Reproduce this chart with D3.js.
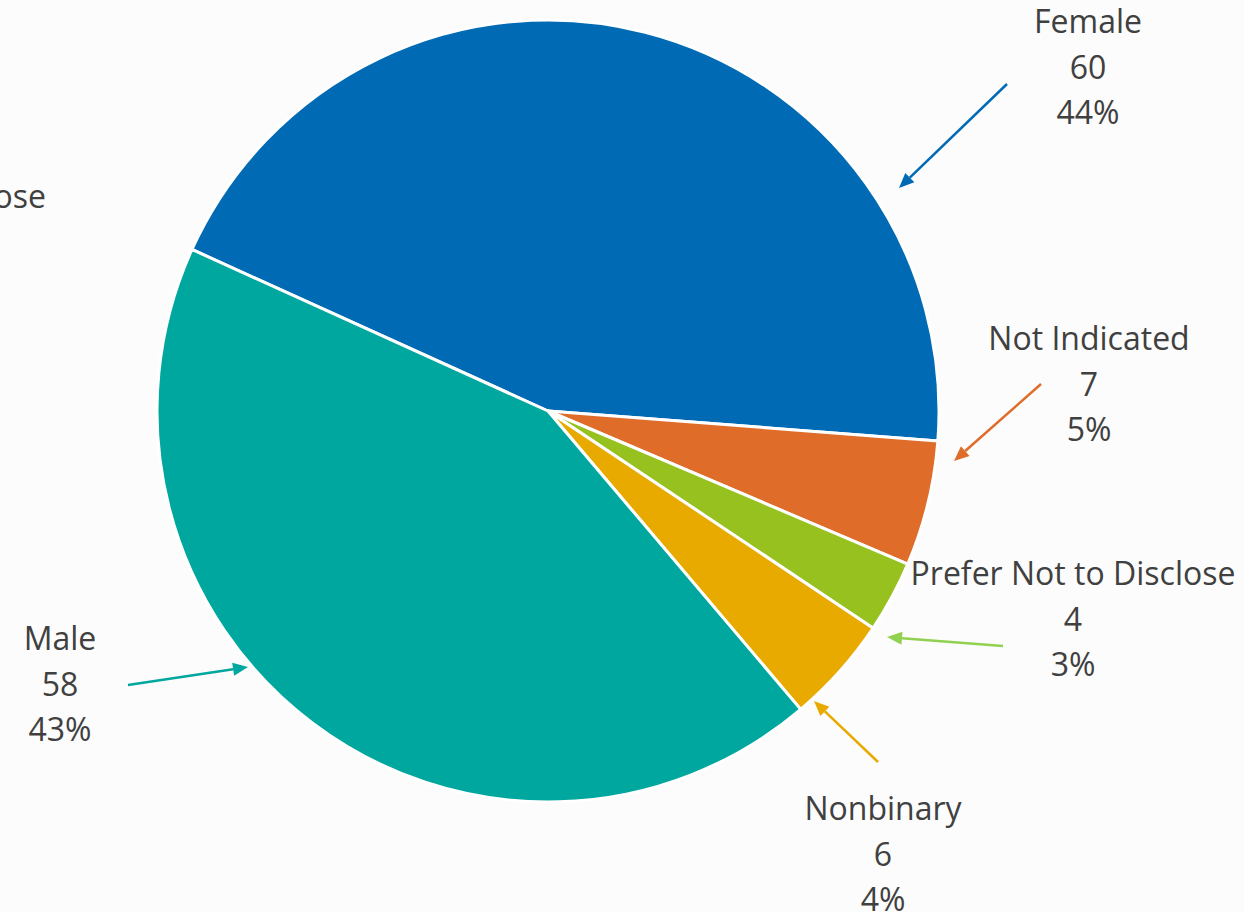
<!DOCTYPE html>
<html>
<head>
<meta charset="utf-8">
<script src="https://cdn.jsdelivr.net/npm/d3@7"></script>
<style>
body { margin: 0; background: #fcfcfc; overflow: hidden; }
svg { display: block; }
</style>
</head>
<body>
<svg id="chart" width="1244" height="912"></svg>
<script>
// slice order runs clockwise from the Female slice
var categories = ['Female', 'Not Indicated', 'Prefer Not to Disclose', 'Nonbinary', 'Male'];
var counts = [60, 7, 4, 6, 58];
var percents = ['44%', '5%', '3%', '4%', '43%'];
var sliceColors = ['#006bb4', '#e06c2a', '#97c11f', '#e9aa00', '#00a79e'];
var arrowColors = ['#006bb4', '#e06c2a', '#92d050', '#e9aa00', '#00a79e'];

// label block centre and leader arrow (from -> to), in page pixels
var labelPos = [[1088, 33], [1089, 350], [1073, 585], [883, 820], [60, 650]];
var arrows = [
	[[1007, 84], [899, 188]],
	[[1041, 384], [954, 461]],
	[[1003, 646], [887, 637]],
	[[878, 762], [814, 701]],
	[[128, 685], [248, 667]]
];

function renderPie() {
	var svg = d3.select('#chart');
	var cx = 548, cy = 411, r = 391;
	var startDeg = -65.6;
	var fontSize = '32px';

	var pie = d3.pie().sort(null)
		.startAngle(startDeg*Math.PI/180)
		.endAngle((startDeg+360)*Math.PI/180);
	var arc = d3.arc().innerRadius(0).outerRadius(r);

	var g = svg.append('g').attr('transform', 'translate(' + cx + ',' + cy + ')');
	g.selectAll('path')
		.data(pie(counts))
		.enter().append('path')
		.attr('d', arc)
		.style('fill', function(d, i) { return sliceColors[i]; })
		.style('stroke', '#ffffff')
		.style('stroke-width', '3px')
		.style('stroke-linejoin', 'round');

	// clipped label remnant at the left edge
	svg.append('text')
		.attr('x', 46).attr('y', 208)
		.attr('text-anchor', 'end')
		.style('font-family', 'Open Sans')
		.style('font-size', fontSize)
		.style('fill', '#404040')
		.text('Prefer Not to Disclose');

	var line = d3.line().x(function(p) { return p[0]; }).y(function(p) { return p[1]; });

	arrows.forEach(function(a, i) {
		var from = a[0], to = a[1];
		var ang = Math.atan2(to[1]-from[1], to[0]-from[0]);
		var headLen = 15, headW = 6.5;
		var base = [to[0] - headLen*Math.cos(ang), to[1] - headLen*Math.sin(ang)];
		svg.append('path')
			.attr('d', line([from, base]))
			.style('stroke', arrowColors[i])
			.style('stroke-width', '2.5px')
			.style('fill', 'none');
		var left = [base[0] + headW*Math.sin(ang), base[1] - headW*Math.cos(ang)];
		var right = [base[0] - headW*Math.sin(ang), base[1] + headW*Math.cos(ang)];
		svg.append('path')
			.attr('d', line([to, left, right]) + 'Z')
			.style('fill', arrowColors[i]);
	});

	categories.forEach(function(c, i) {
		var t = svg.append('text')
			.attr('text-anchor', 'middle')
			.style('font-family', 'Open Sans')
			.style('font-size', fontSize)
			.style('fill', '#404040');
		[c, String(counts[i]), percents[i]].forEach(function(s, k) {
			t.append('tspan')
				.attr('x', labelPos[i][0])
				.attr('y', labelPos[i][1] + k*45.5)
				.text(s);
		});
	});
}

renderPie();
</script>
</body>
</html>
